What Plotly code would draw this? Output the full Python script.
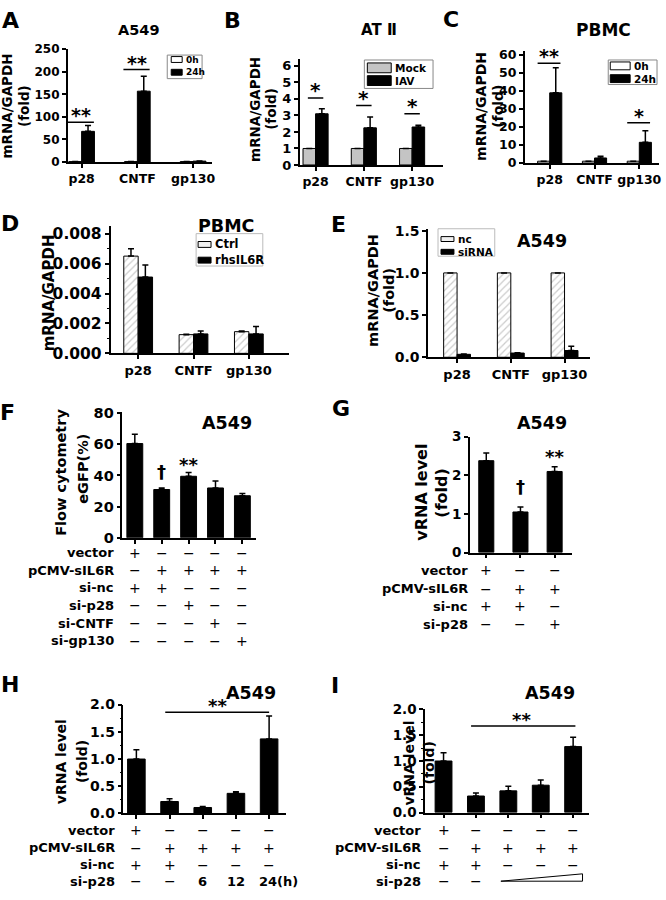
import plotly.graph_objects as go

W, H = 666, 900
FONT = "DejaVu Sans, Liberation Sans, Arial, sans-serif"

# ---------------- data ----------------
gene_cats = ["p28", "CNTF", "gp130"]

A_0h = [1, 1, 1]
A_24h = [68, 157, 2]
A_24h_err = [13, 33, 0.5]
A_sig = ["**", "**", ""]
A_sig_y = [88, 205, 0]

B_mock = [1, 1, 1]
B_iav = [3.1, 2.25, 2.3]
B_iav_err = [0.3, 0.65, 0.1]
B_sig = ["*", "*", "*"]
B_sig_y = [4.05, 3.6, 3.1]

C_0h = [1, 1, 1]
C_24h = [39, 2.8, 11.5]
C_24h_err = [14, 1.0, 6.5]
C_sig = ["**", "", "*"]
C_sig_y = [55.5, 0, 22.4]

D_ctrl = [0.0065, 0.00125, 0.00145]
D_ctrl_err = [0.0005, 0.00003, 0.00005]
D_rhs = [0.0051, 0.0013, 0.0013]
D_rhs_err = [0.0008, 0.0002, 0.0005]

E_nc = [1, 1, 1]
E_si = [0.035, 0.05, 0.08]
E_si_err = [0.005, 0.005, 0.05]

F_vals = [60.5, 31, 39.5, 32, 27]
F_err = [6, 1, 2.5, 4.5, 1.5]
F_marks = ["", "†", "**", "", ""]
F_mark_y = [0, 42.8, 47, 0, 0]
F_rows = ["vector", "pCMV-sIL6R", "si-nc", "si-p28", "si-CNTF", "si-gp130"]
F_table = [["+", "−", "−", "−", "−"],
           ["−", "+", "+", "+", "+"],
           ["+", "+", "−", "−", "−"],
           ["−", "−", "+", "−", "−"],
           ["−", "−", "−", "+", "−"],
           ["−", "−", "−", "−", "+"]]

G_vals = [2.38, 1.05, 2.1]
G_err = [0.2, 0.13, 0.12]
G_marks = ["", "†", "**"]
G_mark_y = [0, 1.70, 2.49]
G_rows = ["vector", "pCMV-sIL6R", "si-nc", "si-p28"]
G_table = [["+", "−", "−"],
           ["−", "+", "+"],
           ["+", "+", "−"],
           ["−", "−", "+"]]

H_vals = [1.0, 0.22, 0.11, 0.37, 1.37]
H_err = [0.17, 0.05, 0.02, 0.03, 0.42]
H_sig = ["**", 1, 4, 1.86]
H_rows = ["vector", "pCMV-sIL6R", "si-nc", "si-p28"]
H_table = [["+", "−", "−", "−", "−"],
           ["−", "+", "+", "+", "+"],
           ["+", "+", "−", "−", "−"],
           ["−", "−", "6", "12", "24(h)"]]

I_vals = [1.0, 0.32, 0.42, 0.53, 1.28]
I_err = [0.16, 0.06, 0.09, 0.10, 0.18]
I_sig = ["**", 1, 4, 1.68]
I_rows = ["vector", "pCMV-sIL6R", "si-nc", "si-p28"]
I_table = [["+", "−", "−", "−", "−"],
           ["−", "+", "+", "+", "+"],
           ["+", "+", "−", "−", "−"],
           ["−", "−", "", "", ""]]

# ---------------- helpers ----------------
def fx(p):
    return p / W


def fy(p):
    return 1 - p / H


fig = go.Figure()
layout = dict(width=W, height=H, margin=dict(l=0, r=0, t=0, b=0),
              paper_bgcolor="white", plot_bgcolor="white", showlegend=False,
              barmode="overlay", font=dict(family=FONT, color="black", weight="bold"))
shapes = []
annotations = []


def txt(x, y, s, size, xref="paper", yref="paper", xa="center", ya="middle",
        angle=0, weight="bold", xshift=0, yshift=0):
    annotations.append(dict(x=x, y=y, xref=xref, yref=yref, text=s, showarrow=False,
                            xanchor=xa, yanchor=ya, textangle=angle,
                            xshift=xshift, yshift=yshift,
                            font=dict(family=FONT, size=size, color="black", weight=weight)))


def axes(n, xd, yd, xr, yr, dtick, ncat, cats=None, fmt=None, tfs=13, xfs=12.5, minor=None):
    sx = "" if n == 1 else str(n)
    xa = dict(domain=[fx(xd[0]), fx(xd[1])], range=xr, anchor="y" + sx,
              tickvals=list(range(ncat)), ticktext=cats if cats else [""] * ncat,
              showticklabels=bool(cats), showline=True, linecolor="black", linewidth=1.5,
              ticks="outside", ticklen=4, tickwidth=1.5, tickcolor="black",
              showgrid=False, zeroline=False,
              tickfont=dict(family=FONT, size=xfs, color="black", weight="bold"))
    ya = dict(domain=[fy(yd[1]), fy(yd[0])], range=yr, anchor="x" + sx,
              tick0=0, dtick=dtick, showline=True, linecolor="black", linewidth=1.5,
              ticks="outside", ticklen=4, tickwidth=1.5, tickcolor="black",
              showgrid=False, zeroline=False,
              tickfont=dict(family=FONT, size=tfs, color="black", weight="bold"))
    if fmt:
        ya["tickformat"] = fmt
    if minor:
        ya["minor"] = dict(dtick=minor, ticks="outside", ticklen=2, tickwidth=1, tickcolor="black")
    layout["xaxis" + sx] = xa
    layout["yaxis" + sx] = ya
    return "x" + sx, "y" + sx


def bars(xa, ya, vals, err, w, offset, fill="black", pattern=None):
    idx = list(range(len(vals)))
    marker = dict(color=fill, line=dict(color="black", width=1))
    if pattern:
        marker["pattern"] = pattern
    fig.add_trace(go.Bar(x=idx, y=vals, width=w, offset=offset, xaxis=xa, yaxis=ya,
                         marker=marker, hoverinfo="skip",
                         error_y=dict(type="data", array=err, arrayminus=[0] * len(vals),
                                      symmetric=False, color="black", thickness=1.5, width=3)))


def sig_lines(xa, ya, marks, ys, lo, hi, size):
    for i, (m, yv) in enumerate(zip(marks, ys)):
        if not m:
            continue
        shapes.append(dict(type="line", xref=xa, yref=ya, x0=i + lo, x1=i + hi, y0=yv, y1=yv,
                           line=dict(color="black", width=1.5)))
        txt(i + (lo + hi) / 2, yv, m, size, xref=xa, yref=ya, ya="bottom", yshift=-6)


def legend(box, swx, rows_y, swh, labels, fills, fs, border="#888"):
    x0, y0, x1, y1 = box
    shapes.append(dict(type="rect", xref="paper", yref="paper", x0=fx(x0), x1=fx(x1),
                       y0=fy(y1), y1=fy(y0), line=dict(color=border, width=1)))
    for lab, fc, yc in zip(labels, fills, rows_y):
        shapes.append(dict(type="rect", xref="paper", yref="paper", x0=fx(swx[0]), x1=fx(swx[1]),
                           y0=fy(yc + swh / 2), y1=fy(yc - swh / 2), fillcolor=fc,
                           line=dict(color="black", width=1)))
        txt(fx(swx[1] + 2), fy(yc), lab, fs, xa="left")


def table(xa, rows, cells, rows_y, label_x, fs=13):
    for r, (lab, yc) in enumerate(zip(rows, rows_y)):
        txt(fx(label_x), fy(yc), lab, fs, xa="right")
        for i, c in enumerate(cells[r]):
            if not c:
                continue
            if c in ("+", "−"):
                txt(i, fy(yc), c, 14, xref=xa, weight="normal")
            else:
                sh = 9 if c.endswith("(h)") else 0
                txt(i, fy(yc), c, fs, xref=xa, xshift=sh)


hatch = dict(shape="/", fgcolor="#9a9a9a", bgcolor="white", size=5, solidity=0.25)

# ---------------- Panel A ----------------
xa, ya = axes(1, (68, 213), (42, 157), [-0.25, 2.34], [0, 250], 50, 3, gene_cats, tfs=12)
bars(xa, ya, A_0h, [0, 0, 0], 0.23, -0.23, fill="white")
bars(xa, ya, A_24h, A_24h_err, 0.23, 0)
sig_lines(xa, ya, A_sig, A_sig_y, -0.25, 0.22, 19)
legend((168, 48, 203, 72), (172, 183), [52.5, 65.5], 6, ["0h", "24h"], ["white", "black"], 9)

# ---------------- Panel B ----------------
xa, ya = axes(2, (301, 445), (52.3, 160), [-0.33, 2.64], [0, 6.4], 1, 3, gene_cats, tfs=13)
bars(xa, ya, B_mock, [0, 0, 0], 0.26, -0.26, fill="#c4c4c4")
bars(xa, ya, B_iav, B_iav_err, 0.26, 0)
sig_lines(xa, ya, B_sig, B_sig_y, -0.16, 0.16, 20)
legend((366, 53, 435, 82), (369, 393), [61, 74], 10, ["Mock", "IAV"], ["#c4c4c4", "black"], 10.5)

# ---------------- Panel C ----------------
xa, ya = axes(3, (527, 662), (44.3, 158), [-0.56, 2.44], [0, 62], 10, 3, gene_cats, tfs=12.5)
bars(xa, ya, C_0h, [0, 0, 0], 0.27, -0.27, fill="white")
bars(xa, ya, C_24h, C_24h_err, 0.27, 0)
sig_lines(xa, ya, C_sig, C_sig_y, -0.27, 0.24, 19)
legend((611, 53, 660, 78), (613, 633), [59, 72], 8, ["0h", "24h"], ["white", "black"], 10.5)

# ---------------- Panel D ----------------
xa, ya = axes(4, (111, 290), (222.4, 352), [-0.5, 2.72], [0, 0.0085], 0.002, 3, gene_cats,
              fmt=".3f", tfs=15.5, xfs=13, minor=0.001)
bars(xa, ya, D_ctrl, D_ctrl_err, 0.26, -0.26, fill="white", pattern=hatch)
bars(xa, ya, D_rhs, D_rhs_err, 0.26, 0)
legend((197, 230, 264, 263), (199, 212), [241, 257], 6, ["Ctrl", "rhsIL6R"], ["#f0f0f0", "black"], 11.5,
       border="#bbb")

# ---------------- Panel E ----------------
xa, ya = axes(5, (430, 593), (225.3, 356), [-0.54, 2.48], [0, 1.52], 0.5, 3, gene_cats,
              fmt=".1f", tfs=14, xfs=13)
bars(xa, ya, E_nc, [0, 0, 0], 0.25, -0.25, fill="white", pattern=hatch)
bars(xa, ya, E_si, E_si_err, 0.25, 0)
legend((440, 225, 497, 253), (443, 456), [235.5, 248.5], 5, ["nc", "siRNA"], ["#f0f0f0", "black"], 10.5,
       border="#bbb")

# ---------------- Panel F ----------------
xa, ya = axes(6, (123, 257), (411.4, 540), [-0.46, 4.5], [0, 81], 20, 5, None, tfs=14.5)
bars(xa, ya, F_vals, F_err, 0.59, -0.295)
for i, (m, yv) in enumerate(zip(F_marks, F_mark_y)):
    if m:
        txt(i, yv, m, 18, xref=xa, yref=ya)
table(xa, F_rows, F_table, [555, 573, 591, 609, 627, 645], 117)

# ---------------- Panel G ----------------
xa, ya = axes(7, (472, 575), (437, 555), [-0.48, 2.52], [0, 3], 1, 3, None, tfs=13.5)
bars(xa, ya, G_vals, G_err, 0.44, -0.22)
for i, (m, yv) in enumerate(zip(G_marks, G_mark_y)):
    if m:
        txt(i, yv, m, 18, xref=xa, yref=ya)
table(xa, G_rows, G_table, [573, 592, 610, 628], 472)

# ---------------- Panel H ----------------
xa, ya = axes(8, (124, 287), (710, 821), [-0.39, 4.5], [0, 2], 0.5, 5, None, fmt=".1f", tfs=14,
              minor=0.25)
bars(xa, ya, H_vals, H_err, 0.53, -0.265)
shapes.append(dict(type="line", xref=xa, yref=ya, x0=H_sig[1] - 0.13, x1=H_sig[2], y0=H_sig[3],
                   y1=H_sig[3], line=dict(color="black", width=1.5)))
txt((H_sig[1] + H_sig[2]) / 2 - 0.05, H_sig[3], H_sig[0], 18, xref=xa, yref=ya, ya="bottom", yshift=-6)
table(xa, H_rows, H_table, [838, 856, 873, 890], 118)

# ---------------- Panel I ----------------
xa, ya = axes(9, (427, 592), (715, 820), [-0.57, 4.5], [0, 2], 0.5, 5, None, fmt=".1f", tfs=13.5,
              minor=0.25)
bars(xa, ya, I_vals, I_err, 0.52, -0.26)
shapes.append(dict(type="line", xref=xa, yref=ya, x0=I_sig[1] - 0.15, x1=I_sig[2] + 0.07, y0=I_sig[3],
                   y1=I_sig[3], line=dict(color="black", width=1.5)))
txt((I_sig[1] + I_sig[2]) / 2 - 0.1, I_sig[3], I_sig[0], 18, xref=xa, yref=ya, ya="bottom", yshift=-6)
table(xa, I_rows, I_table, [838, 856, 873, 890], 425)
# dose wedge for si-p28
shapes.append(dict(type="path", xref=xa, yref="paper",
                   path=f"M 1.77,{fy(890)} L 4.29,{fy(890)} L 4.29,{fy(882.5)} Z",
                   fillcolor="white", line=dict(color="black", width=1)))

# ---------------- titles, panel letters, axis titles ----------------
titles = [("A549", 140, 22, 14.5), ("AT Ⅱ", 381, 22, 15), ("PBMC", 606, 22, 17),
          ("PBMC", 227, 222, 17.5), ("A549", 544, 237, 17.5), ("A549", 228, 423, 17.5),
          ("A549", 544, 423, 17.5), ("A549", 252, 698, 17.5), ("A549", 552, 698, 17.5)]
for s, x, y, f in titles:
    txt(fx(x), fy(y), s, f)

letters = [("A", 10.5, 12.5), ("B", 234, 13), ("C", 453, 12), ("D", 10, 220), ("E", 340, 221),
           ("F", 8, 412), ("G", 343, 408), ("H", 10, 690), ("I", 337, 691)]
for s, x, y in letters:
    txt(fx(x), fy(y), s, 22)

ytitles = [("mRNA/GAPDH", 7.5, 100, 13.5), ("(fold)", 24, 100, 13.5),
           ("mRNA/GAPDH", 256, 103, 13.5), ("(fold)", 272, 103, 13.5),
           ("mRNA/GAPDH", 483, 100, 14), ("(fold)", 500, 100, 14),
           ("mRNA/GAPDH", 49, 290, 15),
           ("mRNA/GAPDH", 374, 288, 14.5), ("(fold)", 390, 288, 14.5),
           ("Flow cytometry", 61, 473, 14.5), ("eGFP(%)", 83, 470, 14.5),
           ("vRNA level", 424, 494, 16), ("(fold)", 444, 494, 16),
           ("vRNA level", 62, 768, 14), ("(fold)", 83, 768, 14),
           ("vRNA level", 411, 770, 14), ("(fold)", 431, 770, 14)]
for s, x, y, f in ytitles:
    txt(fx(x), fy(y), s, f, angle=-90)

layout["shapes"] = shapes
layout["annotations"] = annotations
fig.update_layout(**layout)
fig.write_html("out.html", config={"displayModeBar": False},
               post_script="document.body.style.margin='0px';"
                           "document.documentElement.style.overflow='hidden';")
